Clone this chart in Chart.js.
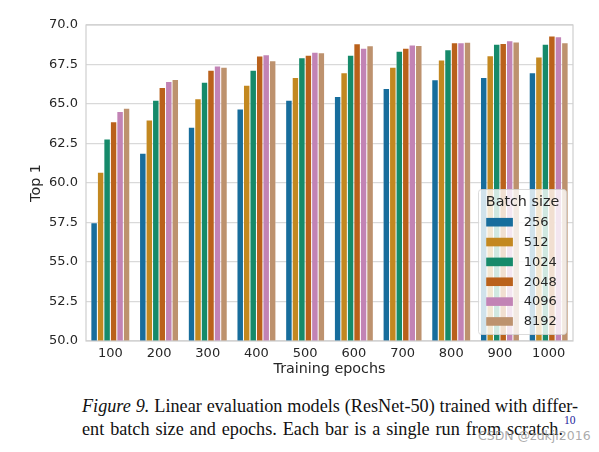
<!DOCTYPE html>
<html>
<head>
<meta charset="utf-8">
<script src="https://cdn.jsdelivr.net/npm/chart.js@4.4.1/dist/chart.umd.min.js"></script>
<style>
  html, body { margin: 0; padding: 0; background: #ffffff; }
  #wrap { position: relative; width: 599px; height: 452px; overflow: hidden; background: #fff; }
  #chartBox { position: absolute; left: 0; top: 0; width: 599px; height: 385px; }
  .cap { position: absolute; font-family: "Liberation Serif", "DejaVu Serif", serif; font-size: 18.2px; line-height: 20px; color: #111; white-space: nowrap; }
  #line1 { left: 82px; top: 395.7px; }
  #line2 { left: 82px; top: 419px; }
  #sup { position: absolute; color: #22229a; font-size: 11.5px; font-family: "Liberation Serif", serif; white-space: nowrap; }
  #wm { position: absolute; left: 478px; top: 428px; font-family: "DejaVu Sans", sans-serif; font-size: 12.5px; color: rgba(150,150,150,0.8); white-space: nowrap; }
</style>
</head>
<body>
<div id="wrap">
  <div id="chartBox"><canvas id="c"></canvas></div>
  <div class="cap" id="line1"><span id="t1"><i>Figure 9.</i> Linear evaluation models (ResNet-50) trained with differ-</span></div>
  <div class="cap" id="line2"><span id="t2">ent batch size and epochs. Each bar is a single run from scratch.</span></div>
  <div id="sup">10</div>
  <div id="wm">CSDN @zdkjl2016</div>
</div>
<script>
// fit caption lines to the widths seen in the reference
function fitLine(el, target) {
  const w = el.getBoundingClientRect().width;
  const spaces = (el.textContent.match(/ /g) || []).length;
  el.style.wordSpacing = ((target - w) / spaces) + 'px';
}
fitLine(document.getElementById('t1'), 496);
fitLine(document.getElementById('t2'), 481);
(function () {
  const r = document.getElementById('t2').getBoundingClientRect();
  const s = document.getElementById('sup');
  s.style.left = (r.right + 1) + 'px';
  s.style.top = '414px';
})();

// ---- data ----
const epochs = ['100', '200', '300', '400', '500', '600', '700', '800', '900', '1000'];
const batchSizes = ['256', '512', '1024', '2048', '4096', '8192'];
const top1_256  = [57.5, 61.9, 63.55, 64.7, 65.25, 65.5, 66.0, 66.55, 66.7, 67.0];
const top1_512  = [60.7, 64.0, 65.35, 66.2, 66.7, 67.0, 67.35, 67.8, 68.07, 68.0];
const top1_1024 = [62.8, 65.25, 66.4, 67.15, 67.95, 68.1, 68.35, 68.45, 68.8, 68.8];
const top1_2048 = [63.9, 66.07, 67.15, 68.05, 68.1, 68.83, 68.55, 68.9, 68.85, 69.33];
const top1_4096 = [64.55, 66.45, 67.42, 68.13, 68.3, 68.55, 68.75, 68.9, 69.02, 69.28];
const top1_8192 = [64.75, 66.57, 67.35, 67.75, 68.27, 68.7, 68.72, 68.92, 68.95, 68.9];
const yTicks = [50.0, 52.5, 55.0, 57.5, 60.0, 62.5, 65.0, 67.5, 70.0];

const series = [top1_256, top1_512, top1_1024, top1_2048, top1_4096, top1_8192];
const colors = ['#176d9c', '#c38820', '#168a6a', '#ba611b', '#c283b5', '#bd926e'];

const TEXT = '#262626';
const GRID = '#d9d9d9';
const FONT = '"DejaVu Sans", sans-serif';

const framePlugin = {
  id: 'frame',
  afterDatasetsDraw(chart) {
    const {ctx, chartArea: a} = chart;
    ctx.save();
    ctx.strokeStyle = '#cfcfcf';
    ctx.lineWidth = 1.2;
    ctx.strokeRect(a.left, a.top, a.right - a.left, a.bottom - a.top);
    ctx.restore();
  }
};

const legendPlugin = {
  id: 'mplLegend',
  afterDraw(chart) {
    const {ctx, chartArea: a} = chart;
    const w = 88, h = 145;
    const x = a.right - 6.5 - w, y = a.bottom - 6.5 - h;
    ctx.save();
    ctx.beginPath();
    if (ctx.roundRect) ctx.roundRect(x, y, w, h, 3); else ctx.rect(x, y, w, h);
    ctx.fillStyle = 'rgba(255,255,255,0.8)';
    ctx.fill();
    ctx.strokeStyle = 'rgba(210,210,210,0.8)';
    ctx.lineWidth = 1;
    ctx.stroke();
    ctx.fillStyle = TEXT;
    ctx.textBaseline = 'middle';
    ctx.textAlign = 'center';
    ctx.font = '14.3px ' + FONT;
    ctx.fillText('Batch size', x + w / 2, y + 12.5);
    ctx.textAlign = 'left';
    ctx.font = '13px ' + FONT;
    chart.data.datasets.forEach((ds, i) => {
      const cy = y + 32.7 + i * 19.85;
      ctx.fillStyle = ds.backgroundColor;
      ctx.fillRect(x + 7.7, cy - 4.3, 26.7, 8.6);
      ctx.fillStyle = TEXT;
      ctx.fillText(ds.label, x + 45.3, cy + 0.5);
    });
    ctx.restore();
  }
};

new Chart(document.getElementById('c'), {
  type: 'bar',
  data: {
    labels: epochs,
    datasets: batchSizes.map((b, i) => ({
      label: b,
      data: series[i],
      backgroundColor: colors[i],
      borderColor: 'rgba(255,255,255,0.55)',
      borderWidth: {top: 0.8, left: 0.5, right: 0.5, bottom: 0},
      borderSkipped: false,
      categoryPercentage: 0.8,
      barPercentage: 1.0
    }))
  },
  options: {
    responsive: true,
    maintainAspectRatio: false,
    animation: false,
    events: [],
    layout: { padding: { top: 25, right: 26, left: 0, bottom: 0 } },
    plugins: {
      legend: { display: false },
      tooltip: { enabled: false },
      title: { display: false }
    },
    scales: {
      x: {
        grid: { display: false, drawTicks: false },
        border: { display: false },
        ticks: { color: TEXT, font: { family: FONT, size: 13 }, padding: 5, maxRotation: 0 },
        title: { display: true, text: 'Training epochs', color: TEXT, font: { family: FONT, size: 14.3 }, padding: { top: 0, bottom: 7 } },
        afterFit(s) { s.height = 44; }
      },
      y: {
        min: 50,
        max: 70,
        grid: { color: GRID, lineWidth: 1.2, drawTicks: false },
        border: { display: false },
        ticks: {
          stepSize: 2.5,
          color: TEXT,
          font: { family: FONT, size: 13 },
          padding: 8,
          callback: (v) => yTicks.includes(v) ? v.toFixed(1) : ''
        },
        title: { display: true, text: 'Top 1', color: TEXT, font: { family: FONT, size: 14.3 }, padding: { top: 28, bottom: 0 } },
        afterFit(s) { s.width = 86; }
      }
    }
  },
  plugins: [framePlugin, legendPlugin]
});
</script>
</body>
</html>
